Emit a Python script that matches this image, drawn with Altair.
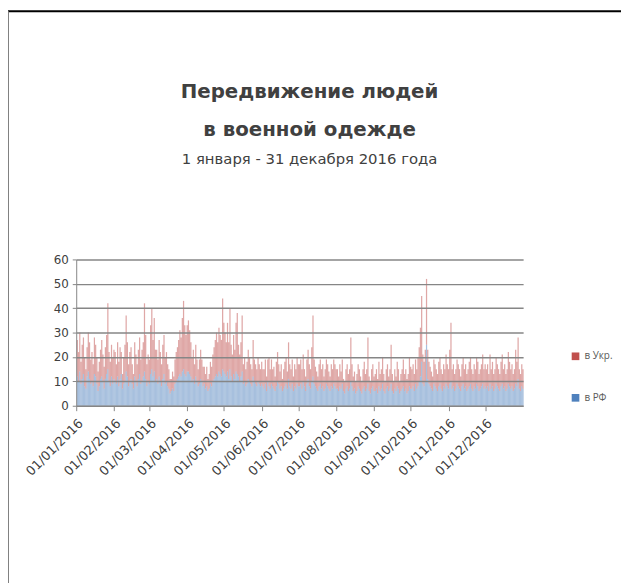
import altair as alt
import pandas as pd

series_names = ["в Укр.", "в РФ"]
series_colors = ["#c0504d", "#4f81bd"]

# daily values per month: people seen in Russia (blue) and in Ukraine (red)
rf_months = [
    [12,10,14,9,11,13,8,7,12,14,11,9,10,8,13,12,9,6,8,11,12,10,7,11,13,15,10,8,12,9,11],
    [10,9,12,8,11,13,7,9,10,14,12,8,10,11,9,7,12,10,8,11,13,9,10,12,14,11,8,10,9],
    [13,15,12,14,10,11,9,12,10,8,11,13,9,10,8,7,5,6,7,6,9,10,11,12,13,12,14,15,13,12,14],
    [14,13,12,10,11,9,12,10,8,9,11,10,8,9,7,8,6,7,9,8,10,11,12,13,12,14,13,12,15,14],
    [13,12,14,11,15,12,10,13,11,14,13,12,10,12,14,9,10,8,9,11,10,9,8,12,10,9,8,10,9,8,9],
    [8,7,9,6,10,8,7,9,8,7,6,8,10,9,7,8,6,7,8,9,7,11,8,7,9,6,8,7,9,8],
    [8,9,7,10,8,6,9,11,8,7,10,12,9,8,7,6,8,9,7,8,6,7,9,8,7,6,8,7,9,8,7],
    [7,6,8,7,9,6,5,7,8,6,7,10,8,6,7,5,6,8,7,6,5,7,8,6,7,9,6,5,7,8,6],
    [6,7,5,8,6,7,9,6,5,7,8,6,7,9,6,5,7,6,8,7,5,6,7,8,6,7,5,6,8,7],
    [7,8,6,9,7,8,10,12,18,9,8,10,25,11,9,8,7,6,9,8,7,6,8,9,7,6,8,7,9,8,7],
    [9,10,7,8,6,7,9,8,7,6,8,9,7,8,6,7,8,9,7,6,8,7,9,8,6,7,8,9,7,8],
    [7,8,6,9,7,8,6,7,9,8,7,6,8,9,7,8,6,7,9,8,7,8,6,7,9,8,11,7,6,8,7],
]
ukr_months = [
    [15,12,16,9,14,15,12,8,12,16,15,10,12,9,15,13,11,8,10,12,15,11,9,13,16,27,12,10,13,11,12],
    [12,8,14,10,13,9,6,11,15,23,14,9,12,13,8,6,14,11,9,12,15,10,13,14,28,18,9,11,10],
    [20,25,15,22,13,12,10,15,12,9,14,16,11,12,9,8,6,5,7,6,10,12,13,15,18,16,22,28,20,17,19],
    [21,18,14,10,12,8,13,9,7,10,12,9,8,7,6,8,5,6,9,8,11,13,15,17,14,18,16,15,29,20],
    [17,14,20,15,25,13,11,16,12,20,25,13,11,14,23,8,10,7,9,12,10,8,7,15,9,8,7,10,8,7,9],
    [7,8,10,6,9,12,8,10,7,9,6,10,12,8,7,9,5,8,10,11,7,15,9,8,10,6,9,8,11,9],
    [9,10,8,11,7,6,10,12,9,8,14,25,10,8,7,6,9,10,8,9,6,8,10,9,7,6,9,8,10,9,8],
    [8,6,9,7,10,5,5,8,9,7,8,18,9,6,7,5,7,9,8,6,5,8,10,7,8,19,6,5,8,9,6],
    [7,8,6,10,7,8,11,7,5,8,9,6,8,16,7,5,8,6,10,8,5,7,8,11,7,8,6,7,12,9],
    [8,9,7,10,8,12,14,20,27,12,10,13,27,12,9,8,7,6,10,9,8,7,10,11,8,7,9,8,12,9,8],
    [14,24,8,9,7,8,10,9,8,6,9,11,8,9,7,8,10,11,8,7,9,8,11,10,7,8,9,12,8,9],
    [8,9,7,12,8,10,7,8,11,9,8,7,10,12,8,9,7,8,13,10,8,9,7,8,14,10,17,8,7,9,8],
]
y_ticks = [0, 10, 20, 30, 40, 50, 60]

rf = [v for m in rf_months for v in m]
ukr = [v for m in ukr_months for v in m]
dates = pd.date_range("2016-01-01", "2016-12-31").strftime("%Y-%m-%d").tolist()
assert len(rf) == len(dates) == len(ukr), (len(rf), len(ukr), len(dates))

rows = []
for d, a, b in zip(dates, rf, ukr):
    rows.append({"date": d, "series": "в РФ", "value": a, "ord": 0})
    rows.append({"date": d, "series": "в Укр.", "value": b, "ord": 1})
df = pd.DataFrame(rows)

FONT = "DejaVu Sans"
month_starts = [alt.DateTime(year=2016, month=m, date=1, utc=True) for m in range(1, 13)]

bars = alt.Chart(df).mark_bar(fillOpacity=0.5, strokeWidth=0, binSpacing=0).encode(
    x=alt.X("date:T", timeUnit="utcyearmonthdate",
            scale=alt.Scale(type="utc", domain=[alt.DateTime(year=2016, month=1, date=1, utc=True),
                                                 alt.DateTime(year=2017, month=1, date=1, utc=True)]),
            axis=alt.Axis(values=month_starts, format="%d/%m/%Y", labelAngle=315, title=None,
                          grid=False, domainColor="#868686", tickColor="#868686", tickSize=5,
                          labelFont=FONT, labelFontSize=13, labelColor="#404040", labelPadding=6,
                          labelOverlap=False)),
    y=alt.Y("value:Q", stack="zero", scale=alt.Scale(domain=[0, 60], nice=False),
            axis=alt.Axis(values=y_ticks, title=None, grid=True, gridColor="#868686", gridWidth=1.5,
                          domainColor="#868686", tickColor="#868686", tickSize=4,
                          labelFont=FONT, labelFontSize=12, labelColor="#404040", labelPadding=4,
                          zindex=1)),
    color=alt.Color("series:N", scale=alt.Scale(domain=series_names, range=series_colors),
                    legend=alt.Legend(title=None, orient="none", legendX=500, legendY=93,
                                      symbolType="square", symbolSize=60, symbolOpacity=1,
                                      labelFont="Open Sans", labelFontSize=10, labelColor="#595959",
                                      rowPadding=32)),
    order=alt.Order("ord:Q", sort="ascending"),
)

frame = alt.Chart(alt.Data(values=[{}]))
top_line = frame.mark_rule(color="black", strokeWidth=2).encode(
    x=alt.value(-70), x2=alt.value(560), y=alt.value(-251))
left_line = frame.mark_rule(color="#808080", strokeWidth=2).encode(
    x=alt.value(-69), y=alt.value(-251), y2=alt.value(330))

chart = alt.layer(bars, top_line, left_line).properties(
    width=452, height=148,
    autosize=alt.AutoSizeParams(type="none"),
    padding={"left": 69, "top": 251, "right": 99, "bottom": 176},
    title=alt.Title(text=["Передвижение людей", "в военной одежде"],
                    subtitle="1 января - 31 декабря 2016 года",
                    font=FONT, fontSize=20, fontWeight="bold", color="#404040",
                    lineHeight=38, subtitleFont=FONT, subtitleFontSize=15,
                    subtitleColor="#404040", subtitlePadding=13, anchor="middle",
                    offset=-159, dx=10),
).configure_view(stroke=None)

chart.save("out.html", embed_options={"renderer": "svg", "actions": False})
